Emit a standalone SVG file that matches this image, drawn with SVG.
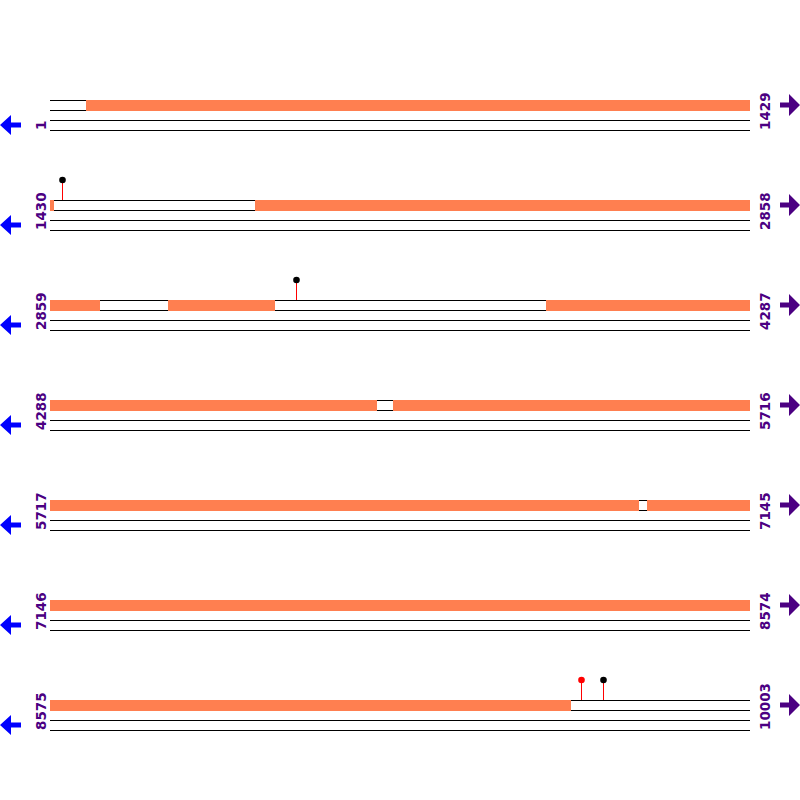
<svg xmlns="http://www.w3.org/2000/svg" width="800" height="800" viewBox="0 0 800 800">
<defs>
<style>
.ln{stroke:#000;stroke-width:1;fill:none}
.orf{fill:#FF7F50}
.lbl{font-family:"DejaVu Sans",sans-serif;font-weight:bold;font-size:13.5px;fill:#4B0082}
.stem{stroke:#FF0000;stroke-width:1}
</style>
<g id="track-lines">
<path id="tl" class="ln" d="M50 100.5H750M50 110.5H750M50 120.5H750M50 130.5H750"/>
</g>
<polygon id="la" points="0,125 11,115 11,122.5 21,122.5 21,127.5 11,127.5 11,135" fill="#0000FF"/>
<polygon id="ra" points="780,102.5 789,102.5 789,94 800,105 789,116 789,107.5 780,107.5" fill="#4B0082"/>
</defs>
<rect width="800" height="800" fill="#fff"/>
<g id="row1">
<use href="#tl"/>
<rect class="orf" x="86" y="100" width="664" height="11"/>
<use href="#la"/><use href="#ra"/>
<text class="lbl" transform="translate(46,130) rotate(-90)">1</text>
<text class="lbl" transform="translate(770,130) rotate(-90)">1429</text>
</g>
<g id="row2" transform="translate(0,100)">
<use href="#tl"/>
<rect class="orf" x="50" y="100" width="4" height="11"/>
<rect class="orf" x="255" y="100" width="495" height="11"/>
<line class="stem" x1="62.5" y1="80" x2="62.5" y2="100"/>
<circle cx="62.5" cy="80" r="3.3" fill="#000"/>
<use href="#la"/><use href="#ra"/>
<text class="lbl" transform="translate(46,130) rotate(-90)">1430</text>
<text class="lbl" transform="translate(770,130) rotate(-90)">2858</text>
</g>
<g id="row3" transform="translate(0,200)">
<use href="#tl"/>
<rect class="orf" x="50" y="100" width="50" height="11"/>
<rect class="orf" x="168" y="100" width="107" height="11"/>
<rect class="orf" x="546" y="100" width="204" height="11"/>
<line class="stem" x1="296.5" y1="80" x2="296.5" y2="100"/>
<circle cx="296.5" cy="80" r="3.3" fill="#000"/>
<use href="#la"/><use href="#ra"/>
<text class="lbl" transform="translate(46,130) rotate(-90)">2859</text>
<text class="lbl" transform="translate(770,130) rotate(-90)">4287</text>
</g>
<g id="row4" transform="translate(0,300)">
<use href="#tl"/>
<rect class="orf" x="50" y="100" width="327" height="11"/>
<rect class="orf" x="393" y="100" width="357" height="11"/>
<use href="#la"/><use href="#ra"/>
<text class="lbl" transform="translate(46,130) rotate(-90)">4288</text>
<text class="lbl" transform="translate(770,130) rotate(-90)">5716</text>
</g>
<g id="row5" transform="translate(0,400)">
<use href="#tl"/>
<rect class="orf" x="50" y="100" width="589" height="11"/>
<rect class="orf" x="647" y="100" width="103" height="11"/>
<use href="#la"/><use href="#ra"/>
<text class="lbl" transform="translate(46,130) rotate(-90)">5717</text>
<text class="lbl" transform="translate(770,130) rotate(-90)">7145</text>
</g>
<g id="row6" transform="translate(0,500)">
<use href="#tl"/>
<rect class="orf" x="50" y="100" width="700" height="11"/>
<use href="#la"/><use href="#ra"/>
<text class="lbl" transform="translate(46,130) rotate(-90)">7146</text>
<text class="lbl" transform="translate(770,130) rotate(-90)">8574</text>
</g>
<g id="row7" transform="translate(0,600)">
<use href="#tl"/>
<rect class="orf" x="50" y="100" width="521" height="11"/>
<line class="stem" x1="581.5" y1="80" x2="581.5" y2="100"/>
<circle cx="581.5" cy="80" r="3.3" fill="#FF0000"/>
<line class="stem" x1="603.5" y1="80" x2="603.5" y2="100"/>
<circle cx="603.5" cy="80" r="3.3" fill="#000"/>
<use href="#la"/><use href="#ra"/>
<text class="lbl" transform="translate(46,130) rotate(-90)">8575</text>
<text class="lbl" transform="translate(770,130) rotate(-90)">10003</text>
</g>
</svg>
